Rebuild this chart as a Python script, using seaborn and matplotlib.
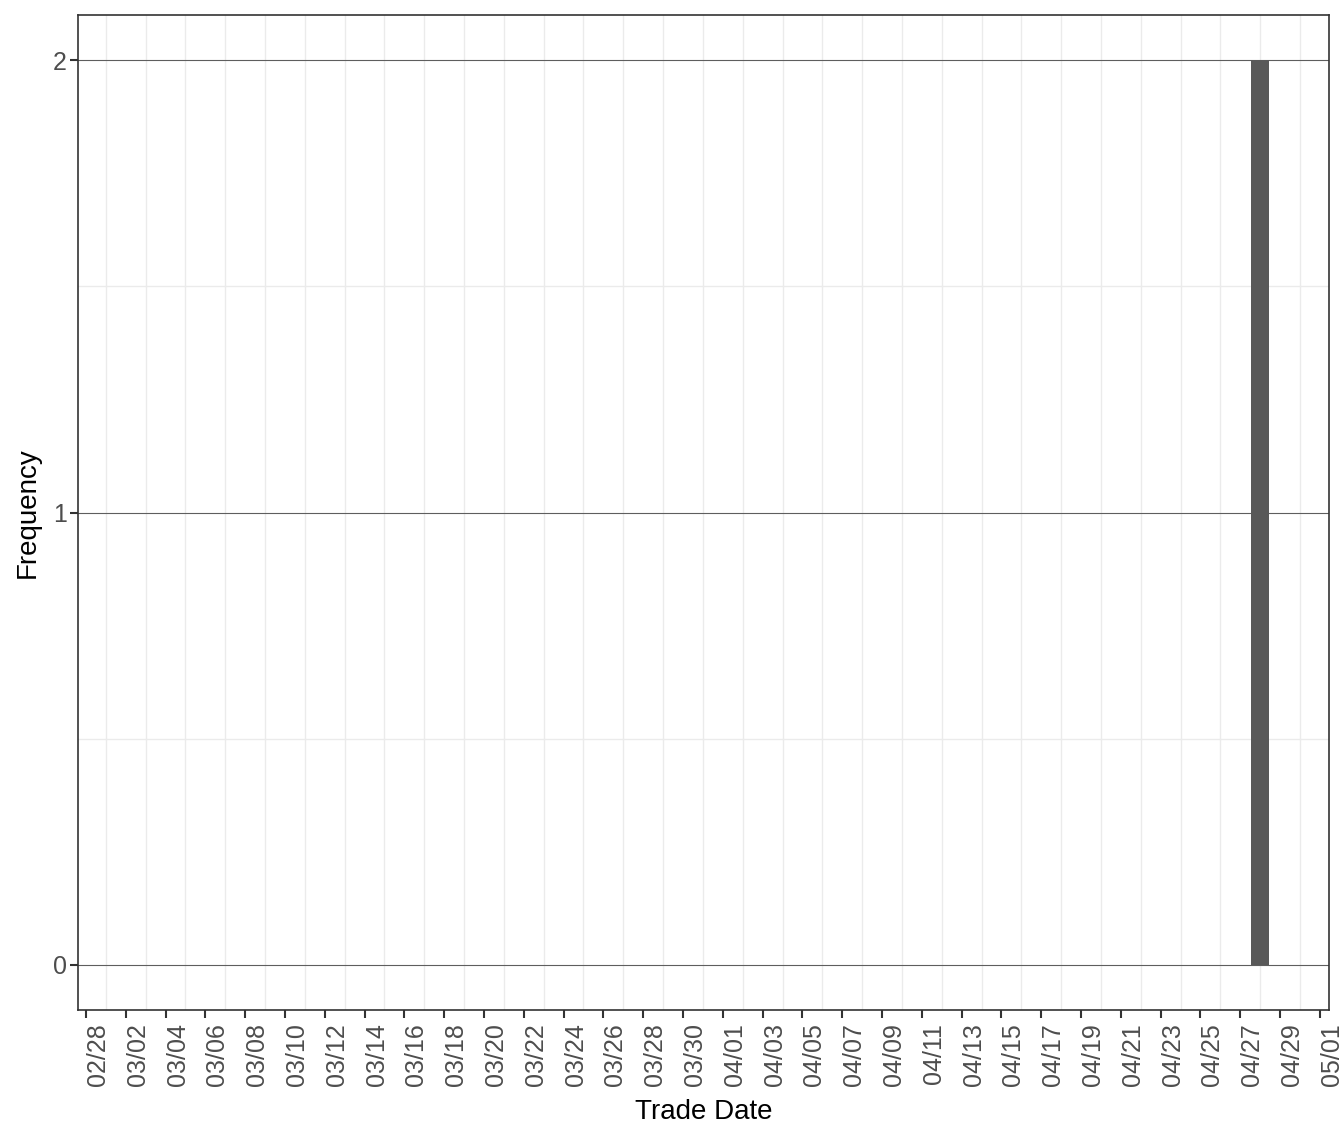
import matplotlib
matplotlib.use("Agg")
import matplotlib.pyplot as plt
import matplotlib.dates as mdates
import numpy as np
import pandas as pd
import seaborn as sns

## Data: one trade date occurring twice
trade_dates = ["2021-04-28", "2021-04-28"]
axis_start = "2021-02-28"
axis_end = "2021-05-01"
y_ticks = [0, 1, 2]

df = pd.DataFrame({"Trade Date": pd.to_datetime(trade_dates)})
df["day_num"] = mdates.date2num(df["Trade Date"])

sns.set_theme(style="white")
plt.rcParams["font.family"] = ["Liberation Sans", "DejaVu Sans"]

fig, ax = plt.subplots(figsize=(13.44, 11.42), dpi=100)
fig.subplots_adjust(left=78 / 1344, right=1329 / 1344, top=1 - 15 / 1142, bottom=1 - 1010 / 1142)

## Bars
sns.histplot(data=df, x="day_num", discrete=True, shrink=0.9, color="#595959",
             alpha=1, edgecolor="none", linewidth=0, ax=ax, zorder=3)

start = mdates.date2num(pd.Timestamp(axis_start))
end = mdates.date2num(pd.Timestamp(axis_end))
ax.set_xlim(start - 0.4, end + 0.46)
ax.set_ylim(-0.1, 2.1)

# ticks every 2 days, grid on the days in between
major = np.arange(start, end + 0.5, 2)
minor = np.arange(start + 1, end + 1.5, 2)
ax.set_xticks(major)
ax.set_xticklabels([mdates.num2date(d).strftime("%m/%d") for d in major],
                   rotation=90, ha="left", va="top")
ax.set_yticks(y_ticks)

for d in minor:
    ax.axvline(d, color="#ebebeb", lw=1.0, zorder=0)
for v in [0.5, 1.5]:
    ax.axhline(v, color="#ebebeb", lw=1.0, zorder=0)
for v in y_ticks:
    ax.axhline(v, color="#5e5e5e", lw=0.8, zorder=1)

ax.tick_params(axis="both", which="major", length=5.5, width=1.5, color="#333333",
               labelsize=18, labelcolor="#4d4d4d", pad=2.5, bottom=True, left=True)
ax.tick_params(axis="x", which="major", pad=4)

for s in ax.spines.values():
    s.set_color("#333333")
    s.set_linewidth(1.2)
    s.set_visible(True)

## Titles
ax.set_xlabel("Trade Date", fontsize=20, color="black", labelpad=9)
ax.set_ylabel("Frequency", fontsize=20, color="black", labelpad=9)

plt.savefig("out.png", dpi=100)
